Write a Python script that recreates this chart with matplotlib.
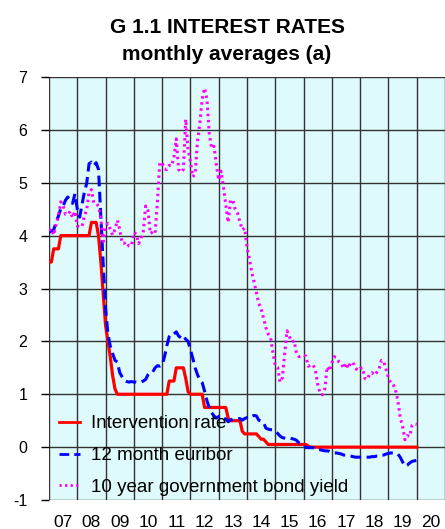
import numpy as np
import matplotlib
matplotlib.use("Agg")
import matplotlib.pyplot as plt

# Monthly data, Jan 2007 .. Jan 2020
start_year = 2007
intervention_rate = [
    3.50, 3.50, 3.75, 3.75, 3.75, 4.00, 4.00, 4.00, 4.00, 4.00, 4.00, 4.00,  # 2007
    4.00, 4.00, 4.00, 4.00, 4.00, 4.00, 4.25, 4.25, 4.25, 4.00, 3.50, 2.90,  # 2008
    2.30, 2.00, 1.70, 1.35, 1.10, 1.00, 1.00, 1.00, 1.00, 1.00, 1.00, 1.00,  # 2009
    1.00, 1.00, 1.00, 1.00, 1.00, 1.00, 1.00, 1.00, 1.00, 1.00, 1.00, 1.00,  # 2010
    1.00, 1.00, 1.00, 1.25, 1.25, 1.25, 1.50, 1.50, 1.50, 1.50, 1.30, 1.05,  # 2011
    1.00, 1.00, 1.00, 1.00, 1.00, 1.00, 0.75, 0.75, 0.75, 0.75, 0.75, 0.75,  # 2012
    0.75, 0.75, 0.75, 0.75, 0.55, 0.50, 0.50, 0.50, 0.50, 0.50, 0.30, 0.25,  # 2013
    0.25, 0.25, 0.25, 0.25, 0.25, 0.20, 0.15, 0.15, 0.10, 0.05, 0.05, 0.05,  # 2014
    0.05, 0.05, 0.05, 0.05, 0.05, 0.05, 0.05, 0.05, 0.05, 0.05, 0.05, 0.05,  # 2015
    0.05, 0.05, 0.02, 0.00, 0.00, 0.00, 0.00, 0.00, 0.00, 0.00, 0.00, 0.00,  # 2016
    0.00, 0.00, 0.00, 0.00, 0.00, 0.00, 0.00, 0.00, 0.00, 0.00, 0.00, 0.00,  # 2017
    0.00, 0.00, 0.00, 0.00, 0.00, 0.00, 0.00, 0.00, 0.00, 0.00, 0.00, 0.00,  # 2018
    0.00, 0.00, 0.00, 0.00, 0.00, 0.00, 0.00, 0.00, 0.00, 0.00, 0.00, 0.00,  # 2019
    0.00,                                                                    # 2020
]
euribor_12m = [
    4.06, 4.09, 4.11, 4.25, 4.37, 4.51, 4.56, 4.67, 4.73, 4.65, 4.61, 4.79,
    4.50, 4.35, 4.59, 4.82, 4.99, 5.36, 5.39, 5.32, 5.38, 5.25, 4.35, 3.45,
    2.62, 2.14, 1.91, 1.77, 1.64, 1.61, 1.41, 1.33, 1.26, 1.24, 1.23, 1.24,
    1.23, 1.23, 1.22, 1.23, 1.25, 1.28, 1.37, 1.42, 1.42, 1.50, 1.54, 1.53,
    1.55, 1.71, 1.92, 2.09, 2.15, 2.14, 2.18, 2.10, 2.07, 2.11, 2.04, 2.00,
    1.84, 1.68, 1.50, 1.37, 1.27, 1.22, 1.06, 0.88, 0.74, 0.65, 0.59, 0.55,
    0.58, 0.59, 0.55, 0.53, 0.48, 0.51, 0.53, 0.54, 0.54, 0.54, 0.51, 0.54,
    0.56, 0.55, 0.58, 0.60, 0.59, 0.51, 0.49, 0.47, 0.36, 0.34, 0.33, 0.33,
    0.30, 0.26, 0.21, 0.18, 0.17, 0.16, 0.17, 0.16, 0.15, 0.13, 0.08, 0.06,
    0.04, -0.01, -0.01, -0.01, -0.01, -0.03, -0.06, -0.05, -0.06, -0.07, -0.07, -0.08,
    -0.10, -0.11, -0.11, -0.12, -0.13, -0.15, -0.15, -0.16, -0.17, -0.18, -0.19, -0.19,
    -0.19, -0.19, -0.19, -0.19, -0.19, -0.18, -0.18, -0.17, -0.17, -0.15, -0.15, -0.13,
    -0.12, -0.11, -0.11, -0.11, -0.13, -0.19, -0.28, -0.36, -0.34, -0.30, -0.27, -0.26,
    -0.25,
]
bond_10y = [
    4.10, 4.13, 4.01, 4.21, 4.37, 4.64, 4.57, 4.40, 4.40, 4.46, 4.34, 4.46,
    4.18, 4.17, 4.17, 4.37, 4.49, 4.83, 4.87, 4.62, 4.61, 4.56, 4.32, 3.89,
    4.18, 4.23, 4.12, 4.01, 4.12, 4.29, 4.12, 3.86, 3.86, 3.79, 3.82, 3.81,
    4.06, 4.03, 3.85, 3.93, 4.08, 4.56, 4.47, 4.04, 4.07, 4.04, 4.64, 5.38,
    5.38, 5.26, 5.25, 5.33, 5.32, 5.48, 5.83, 5.25, 5.20, 5.25, 6.20, 5.62,
    5.40, 5.11, 5.17, 5.79, 6.13, 6.59, 6.79, 6.58, 5.92, 5.65, 5.69, 5.34,
    5.05, 5.22, 4.92, 4.59, 4.25, 4.67, 4.67, 4.50, 4.42, 4.26, 4.11, 4.14,
    3.78, 3.56, 3.31, 3.12, 2.92, 2.72, 2.61, 2.44, 2.26, 2.14, 2.07, 1.79,
    1.54, 1.51, 1.23, 1.31, 1.78, 2.20, 2.09, 1.99, 2.01, 1.77, 1.71, 1.73,
    1.73, 1.72, 1.53, 1.55, 1.56, 1.46, 1.18, 1.02, 0.99, 1.10, 1.52, 1.44,
    1.59, 1.71, 1.69, 1.61, 1.58, 1.49, 1.59, 1.49, 1.60, 1.60, 1.49, 1.45,
    1.49, 1.50, 1.30, 1.28, 1.38, 1.41, 1.36, 1.41, 1.47, 1.64, 1.62, 1.47,
    1.31, 1.21, 1.19, 1.08, 0.88, 0.56, 0.39, 0.14, 0.22, 0.20, 0.41, 0.44,
    0.43,
]
year_labels = ["07", "08", "09", "10", "11", "12", "13", "14", "15", "16",
               "17", "18", "19", "20"]

plt.rcParams["font.family"] = ["Liberation Sans", "DejaVu Sans"]
plt.rcParams["axes.unicode_minus"] = False

t = start_year + np.arange(len(bond_10y)) / 12.0

fig = plt.figure(figsize=(4.45, 5.29), dpi=100)
ax = fig.add_axes([49 / 445, 1 - 500 / 529, 1 - 49 / 445, (500 - 77) / 529])
ax.set_facecolor("#dffafa")

ax.plot(t, intervention_rate, color="#ff0000", lw=2.3, label="Intervention rate", zorder=3)
ax.plot(t, euribor_12m, color="#0000ff", lw=2.2, dashes=(3.5, 1.8), label="12 month euribor", zorder=3)
ax.plot(t, bond_10y, color="#ff00ff", lw=2.2, dashes=(0.8, 1.2), label="10 year government bond yield", zorder=3)

ax.set_xlim(2007, 2021)
ax.set_ylim(-1, 7)
ax.set_yticks(range(-1, 8))
ax.set_xticks(range(2007, 2022))
ax.set_xticklabels([])
ax.set_xticks(np.arange(2007.5, 2021.0, 1.0), minor=True)
ax.set_xticklabels(year_labels, minor=True)
ax.tick_params(axis="x", which="both", length=0, pad=10.5, labelsize=12.5)
ax.tick_params(axis="y", length=5.5, width=1, pad=10, labelsize=11.5)
ax.grid(True, which="major", color="#333333", lw=1.0)
for s in ax.spines.values():
    s.set_visible(False)

leg = ax.legend(loc="lower left", bbox_to_anchor=(0.006, -0.008), frameon=False,
                fontsize=13.5, handlelength=1.15, handletextpad=0.55, labelspacing=0.78,
                borderaxespad=0.0)
for line in leg.get_lines():
    line.set_linewidth(2.0)

fig.text(227 / 445, 1 - 33 / 529, "G 1.1 INTEREST RATES", ha="center", va="baseline",
         fontsize=15, fontweight="bold")
fig.text(227 / 445, 1 - 60 / 529, "monthly averages (a)", ha="center", va="baseline",
         fontsize=15, fontweight="bold")

fig.savefig("out.png", dpi=100)
